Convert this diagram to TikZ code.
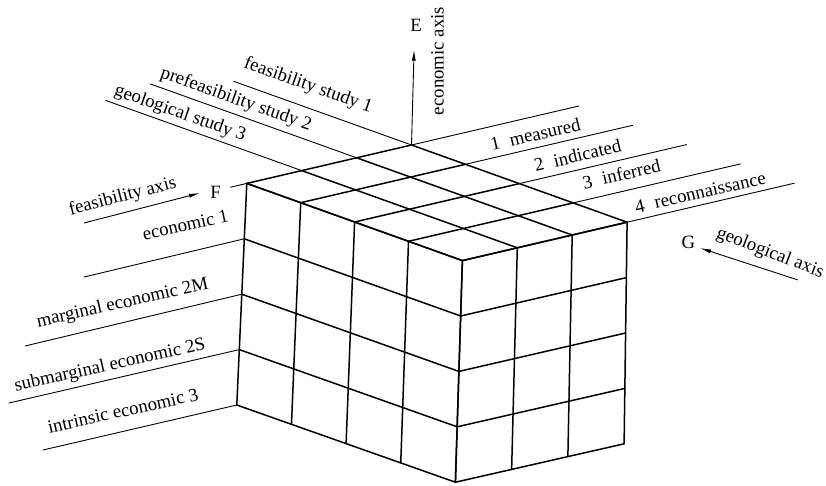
\documentclass[tikz,border=0pt]{standalone}
\usepackage{fontspec}
\setmainfont{Liberation Serif}
\usetikzlibrary{arrows.meta}
\newcommand\defpt[4]{%
  \pgfmathsetmacro\cubX{411.5+53.9*(#2)-54.9*(#3)+(#4)*(-6+0.75*(#2)-1.333*(#3))/4}%
  \pgfmathsetmacro\cubY{145+19.3*(#2)+12.8*(#3)+55.4*(#4)}%
  \coordinate (#1) at (\cubX,\cubY);}
\begin{document}
\begin{tikzpicture}[x=1pt,y=-1pt,
  cube/.style={line width=1.5pt, line cap=round, line join=round},
  thin line/.style={line width=0.9pt},
  axis arrow/.style={line width=0.9pt, -{Latex[length=11pt,width=4pt]}},
  lab/.style={font=\fontsize{18.8}{22}\selectfont, inner sep=0pt, text height=13pt, text depth=4pt},
  letter/.style={font=\fontsize{18.8}{22}\selectfont, inner sep=0pt, anchor=base}]
\useasboundingbox (0,0) rectangle (826,485);
% cube grid points
\foreach \g in {0,...,4}{\foreach \f in {0,...,3}{\foreach \e in {0,...,4}{%
  \defpt{c\g\f\e}{\g}{\f}{\e}}}}
% extension points
\defpt{fl0}{-3.3}{0}{0}
\defpt{fl1}{-3.83}{1}{0}
\defpt{fl2}{-3.64}{2}{0}
\defpt{fstub}{0}{3.3}{0}
\foreach \g in {0,...,4}{\defpt{gl\g}{\g}{-3.05}{0}}
\defpt{etop}{0}{0}{-1.72}
\coordinate (el1) at (84,277);
\coordinate (el2) at (25,346);
\coordinate (el3) at (9,403);
\coordinate (el4) at (43,450);
\coordinate (fa1) at (84,223);
\coordinate (fa2) at (200,193);
\coordinate (ga1) at (798,280);
\coordinate (ga2) at (700,248);
% label lines
\draw[thin line] (fl0) -- (c000);
\draw[thin line] (fl1) -- (c010);
\draw[thin line] (fl2) -- (c020);
\draw[thin line] (c030) -- (fstub);
\foreach \g in {0,...,4}{\draw[thin line] (c\g00) -- (gl\g);}
\foreach \e in {1,...,4}{\draw[thin line] (c03\e) -- (el\e);}
% axes
\draw[axis arrow] (c000) -- (etop);
\draw[axis arrow] (fa1) -- (fa2);
\draw[axis arrow] (ga1) -- (ga2);
% cube: top face
\foreach \g in {0,...,4}{\draw[cube] (c\g00) -- (c\g30);}
\foreach \f in {0,...,3}{\draw[cube] (c0\f0) -- (c4\f0);}
% left face
\foreach \g in {0,...,4}{\draw[cube] (c\g30) -- (c\g34);}
\foreach \e in {0,...,4}{\draw[cube] (c03\e) -- (c43\e);}
% right face
\foreach \f in {0,...,3}{\draw[cube] (c4\f0) -- (c4\f4);}
\foreach \e in {0,...,4}{\draw[cube] (c40\e) -- (c43\e);}
% texts
\node[lab, rotate=-19.5] (t1) at (308,85.7) {feasibility study 1};
\node[lab, rotate=-19.5] (t2) at (236,100) {prefeasibility study 2};
\node[lab, rotate=-19.5] (t3) at (180,113.7) {geological study 3};
\node[lab, rotate=14.5] (t4) at (122.7,197) {feasibility axis};
\node[letter] (tF) at (215.7,198.3) {F};
\node[letter] (tE) at (416,31.7) {E};
\node[letter] (tG) at (688.3,248.3) {G};
\node[lab, rotate=90] (t5) at (439,61) {economic axis};
\node[lab, rotate=-21] (t6) at (770,253.3) {geological axis};
\node[lab, rotate=12.5] (t7) at (185.7,226.7) {economic 1};
\node[lab, rotate=12.5] (t8) at (122.7,303.7) {marginal economic 2M};
\node[lab, rotate=12.5] (t9) at (110,366) {submarginal economic 2S};
\node[lab, rotate=12.5] (t10) at (123.3,412.3) {intrinsic economic 3};
\node[lab, rotate=13] (t11) at (535.7,136) {1\hspace{0.55em}measured};
\node[lab, rotate=13] (t12) at (578,157.3) {2\hspace{0.55em}indicated};
\node[lab, rotate=13] (t13) at (622,176) {3\hspace{0.55em}inferred};
\node[lab, rotate=13] (t14) at (700.7,194) {4\hspace{0.55em}reconnaissance};
\end{tikzpicture}
\end{document}
